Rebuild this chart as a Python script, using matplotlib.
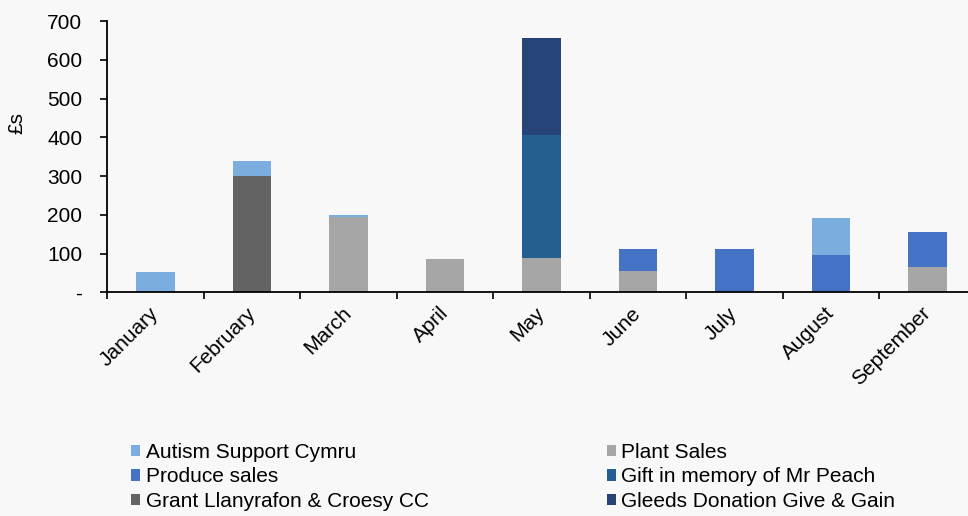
import numpy as np
import matplotlib.pyplot as plt

plt.rcParams['font.family'] = ['Liberation Sans', 'DejaVu Sans']

months = ['January', 'February', 'March', 'April', 'May',
          'June', 'July', 'August', 'September']

# series values (in £s)
plant_sales = [0, 0, 195, 87, 88, 55, 0, 0, 65]
produce_sales = [0, 0, 0, 0, 0, 56, 113, 95, 90]
grant = [0, 300, 0, 0, 0, 0, 0, 0, 0]
gift_peach = [0, 0, 0, 0, 318, 0, 0, 0, 0]
gleeds = [0, 0, 0, 0, 250, 0, 0, 0, 0]
autism = [52, 39, 5, 0, 0, 0, 0, 97, 0]

# stacking order bottom -> top
series = [
    ('Plant Sales', plant_sales, '#a6a6a6'),
    ('Produce sales', produce_sales, '#4472c4'),
    ('Grant Llanyrafon & Croesy CC', grant, '#636363'),
    ('Gift in memory of Mr Peach', gift_peach, '#255e91'),
    ('Gleeds Donation Give & Gain', gleeds, '#264478'),
    ('Autism Support Cymru', autism, '#7badde'),
]

bg = '#f8f8f8'
fig = plt.figure(figsize=(9.68, 5.16), dpi=100, facecolor=bg)
ax = fig.add_axes([0.1109, 0.4335, 0.8972, 0.5258], facecolor=bg)

x = np.arange(len(months))
bottom = np.zeros(len(months))
handles = {}
for name, vals, col in series:
    vals = np.array(vals, dtype=float)
    b = ax.bar(x, vals, width=0.4, bottom=bottom, color=col, label=name)
    handles[name] = b
    bottom += vals

ax.set_xlim(-0.5, len(months) - 0.5)
ax.set_ylim(0, 700)
ax.set_yticks(np.arange(0, 701, 100))
ax.set_yticklabels(['-'] + [str(v) for v in range(100, 701, 100)])

# ticks between categories, labels at the centres
ax.set_xticks(np.arange(-0.5, len(months), 1.0))
ax.set_xticklabels([])
ax.set_xticks(x, minor=True)
ax.set_xticklabels(months, minor=True, rotation=45, ha='right', va='center',
                   rotation_mode='anchor')
ax.tick_params(axis='x', which='minor', length=0, pad=13, labelsize=15)
ax.tick_params(axis='x', which='major', length=5, width=1.2, direction='out')
ax.tick_params(axis='y', length=5, width=1.2, pad=13, labelsize=15)

for s in ['top', 'right']:
    ax.spines[s].set_visible(False)
ax.spines['left'].set_linewidth(1.3)
ax.spines['bottom'].set_linewidth(1.3)

fig.text(16.5 / 968, 1 - 123 / 516, '£s', rotation=90, ha='center',
         va='center', fontsize=15)

order = ['Autism Support Cymru', 'Produce sales', 'Grant Llanyrafon & Croesy CC',
         'Plant Sales', 'Gift in memory of Mr Peach', 'Gleeds Donation Give & Gain']
fig.legend([handles[n] for n in order], order, ncol=2, loc='upper left',
           bbox_to_anchor=(131 / 968, 1 - 443 / 516), frameon=False,
           fontsize=15, handlelength=0.45, handleheight=0.45,
           handletextpad=0.25, labelspacing=0.26, columnspacing=8.55,
           borderpad=0, borderaxespad=0)

fig.savefig('out.png', dpi=100, facecolor=bg)
